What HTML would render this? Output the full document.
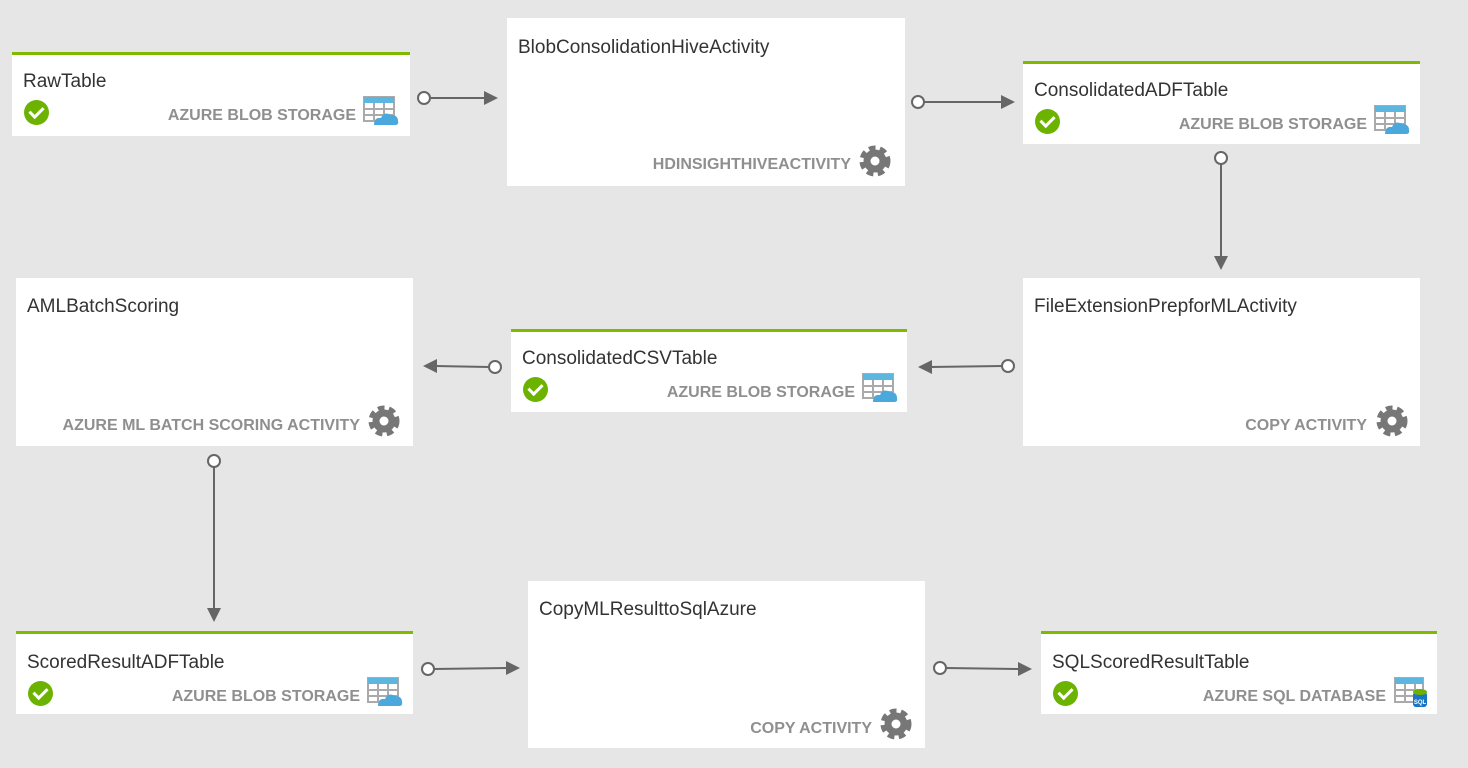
<!DOCTYPE html>
<html><head><meta charset="utf-8"><style>
body{margin:0;width:1468px;height:768px;background:#e6e6e6;position:relative;overflow:hidden;font-family:"Liberation Sans",sans-serif}
.b{position:absolute;background:#fff;box-sizing:border-box}
.t{border-top:3px solid #7fba00}
.ti{position:absolute;left:11px;font-size:19px;color:#333;white-space:nowrap}
.st{position:absolute;font-size:16px;font-weight:bold;color:#8f8f8f;white-space:nowrap;text-align:right}
.ck{position:absolute;left:12px;width:25px;height:25px;border-radius:50%;background:#6cb300}
.ck:after{content:"";position:absolute;left:8px;top:4px;width:6px;height:11px;border:solid #fff;border-width:0 3px 3px 0;transform:rotate(45deg)}
svg.ic{position:absolute}
</style></head><body>

<svg width="0" height="0" style="position:absolute">
<defs>
<g id="gear"><circle cx="18" cy="18" r="11.5" fill="#777" stroke="#777" stroke-width="8" stroke-dasharray="5.8 3.9"/><circle cx="18" cy="18" r="11" fill="#777"/><circle cx="18" cy="18" r="4.5" fill="#fff"/></g>
<g id="tbl"><rect x="2" y="4" width="30" height="24" fill="#fff" stroke="#aaa" stroke-width="2"/><rect x="2" y="4" width="30" height="6" fill="#5bb7e0"/><line x1="2" y1="16" x2="32" y2="16" stroke="#aaa" stroke-width="2"/><line x1="2" y1="22" x2="32" y2="22" stroke="#aaa" stroke-width="2"/><line x1="12" y1="10" x2="12" y2="28" stroke="#aaa" stroke-width="2"/><line x1="22" y1="10" x2="22" y2="28" stroke="#aaa" stroke-width="2"/><path d="M12 32 Q12 24 19 25 Q22 18 29 22 Q36 22 36 28 Q37 32 33 32 Z" fill="#4aa8dc"/></g>
<g id="sql"><rect x="2" y="4" width="28" height="24" fill="#fff" stroke="#aaa" stroke-width="2"/><rect x="2" y="4" width="28" height="6" fill="#5bb7e0"/><line x1="2" y1="16" x2="30" y2="16" stroke="#aaa" stroke-width="2"/><line x1="2" y1="22" x2="30" y2="22" stroke="#aaa" stroke-width="2"/><line x1="12" y1="10" x2="12" y2="28" stroke="#aaa" stroke-width="2"/><line x1="22" y1="10" x2="22" y2="28" stroke="#aaa" stroke-width="2"/><rect x="20" y="18" width="14" height="15" rx="3" fill="#1a76c4"/><ellipse cx="27" cy="18" rx="7" ry="3" fill="#6cb300"/><text x="27" y="30" font-size="6" fill="#fff" text-anchor="middle" font-family="Liberation Sans" font-weight="bold">SQL</text></g>
</defs></svg>

<div class="b t" style="left:12px;top:52px;width:398px;height:84px">
<div class="ti" style="top:16px">RawTable</div><div class="ck" style="top:45px"></div>
<div class="st" style="right:54px;top:52px">AZURE BLOB STORAGE</div>
<svg class="ic" style="left:350px;top:38px" width="40" height="36"><use href="#tbl"/></svg></div>

<div class="b" style="left:507px;top:18px;width:398px;height:168px">
<div class="ti" style="top:19px">BlobConsolidationHiveActivity</div>
<div class="st" style="right:54px;top:138px">HDINSIGHTHIVEACTIVITY</div>
<svg class="ic" style="left:350px;top:125px" width="36" height="36"><use href="#gear"/></svg></div>

<div class="b t" style="left:1023px;top:61px;width:397px;height:83px">
<div class="ti" style="top:16px">ConsolidatedADFTable</div><div class="ck" style="top:45px"></div>
<div class="st" style="right:53px;top:52px">AZURE BLOB STORAGE</div>
<svg class="ic" style="left:350px;top:38px" width="40" height="36"><use href="#tbl"/></svg></div>

<div class="b" style="left:16px;top:278px;width:397px;height:168px">
<div class="ti" style="top:18px">AMLBatchScoring</div>
<div class="st" style="right:53px;top:139px">AZURE ML BATCH SCORING ACTIVITY</div>
<svg class="ic" style="left:350px;top:125px" width="36" height="36"><use href="#gear"/></svg></div>

<div class="b t" style="left:511px;top:329px;width:396px;height:83px">
<div class="ti" style="top:16px">ConsolidatedCSVTable</div><div class="ck" style="top:45px"></div>
<div class="st" style="right:52px;top:52px">AZURE BLOB STORAGE</div>
<svg class="ic" style="left:350px;top:38px" width="40" height="36"><use href="#tbl"/></svg></div>

<div class="b" style="left:1023px;top:278px;width:397px;height:168px">
<div class="ti" style="top:18px">FileExtensionPrepforMLActivity</div>
<div class="st" style="right:53px;top:139px">COPY ACTIVITY</div>
<svg class="ic" style="left:351px;top:125px" width="36" height="36"><use href="#gear"/></svg></div>

<div class="b t" style="left:16px;top:631px;width:397px;height:83px">
<div class="ti" style="top:18px">ScoredResultADFTable</div><div class="ck" style="top:47px"></div>
<div class="st" style="right:53px;top:54px">AZURE BLOB STORAGE</div>
<svg class="ic" style="left:350px;top:40px" width="40" height="36"><use href="#tbl"/></svg></div>

<div class="b" style="left:528px;top:581px;width:397px;height:167px">
<div class="ti" style="top:18px">CopyMLResulttoSqlAzure</div>
<div class="st" style="right:53px;top:139px">COPY ACTIVITY</div>
<svg class="ic" style="left:350px;top:125px" width="36" height="36"><use href="#gear"/></svg></div>

<div class="b t" style="left:1041px;top:631px;width:396px;height:83px">
<div class="ti" style="top:18px">SQLScoredResultTable</div><div class="ck" style="top:47px"></div>
<div class="st" style="right:51px;top:54px">AZURE SQL DATABASE</div>
<svg class="ic" style="left:352px;top:40px" width="40" height="36"><use href="#sql"/></svg></div>

<svg width="1468" height="768" style="position:absolute;left:0;top:0;pointer-events:none">
<g stroke="#666" stroke-width="2" fill="#666">
<line x1="430" y1="98" x2="485" y2="98"/><polygon points="484,91 498,98 484,105" stroke="none"/>
<line x1="924" y1="102" x2="1002" y2="102"/><polygon points="1001,95 1015,102 1001,109" stroke="none"/>
<line x1="1221" y1="164" x2="1221" y2="258"/><polygon points="1214,256 1221,270 1228,256" stroke="none"/>
<line x1="1002" y1="366" x2="930" y2="367"/><polygon points="932,360 918,367 932,374" stroke="none"/>
<line x1="489" y1="367" x2="435" y2="366"/><polygon points="437,359 423,366 437,373" stroke="none"/>
<line x1="214" y1="467" x2="214" y2="610"/><polygon points="207,608 214,622 221,608" stroke="none"/>
<line x1="434" y1="669" x2="507" y2="668"/><polygon points="506,661 520,668 506,675" stroke="none"/>
<line x1="946" y1="668" x2="1019" y2="669"/><polygon points="1018,662 1032,669 1018,676" stroke="none"/>
</g>
<g fill="#fff" stroke="#666" stroke-width="2">
<circle cx="424" cy="98" r="6"/><circle cx="918" cy="102" r="6"/><circle cx="1221" cy="158" r="6"/>
<circle cx="1008" cy="366" r="6"/><circle cx="495" cy="367" r="6"/><circle cx="214" cy="461" r="6"/>
<circle cx="428" cy="669" r="6"/><circle cx="940" cy="668" r="6"/>
</g></svg>
</body></html>
